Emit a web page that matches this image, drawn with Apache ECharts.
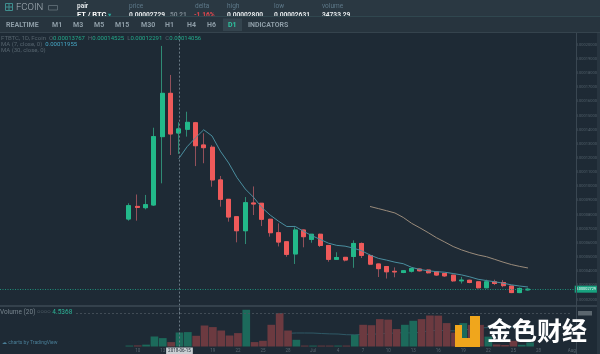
<!DOCTYPE html>
<html><head><meta charset="utf-8">
<script src="https://cdn.jsdelivr.net/npm/echarts@6/dist/echarts.min.js"></script>
<style>html,body{margin:0;padding:0;background:#1e2a35;}#c{width:600px;height:354px;}</style>
</head><body><div id="c"></div>
<script>
// ---- data (prices in satoshi = 1e-8 BTC, volumes in millions) ----
const categories = [
'2018-05-25','2018-05-26','2018-05-27','2018-05-28','2018-05-29','2018-05-30','2018-05-31',
'2018-06-01','2018-06-02','2018-06-03','2018-06-04','2018-06-05','2018-06-06','2018-06-07','2018-06-08','2018-06-09','2018-06-10',
'2018-06-11','2018-06-12','2018-06-13','2018-06-14','2018-06-15','2018-06-16','2018-06-17','2018-06-18','2018-06-19','2018-06-20',
'2018-06-21','2018-06-22','2018-06-23','2018-06-24','2018-06-25','2018-06-26','2018-06-27','2018-06-28','2018-06-29','2018-06-30',
'2018-07-01','2018-07-02','2018-07-03','2018-07-04','2018-07-05','2018-07-06','2018-07-07','2018-07-08','2018-07-09','2018-07-10',
'2018-07-11','2018-07-12','2018-07-13','2018-07-14','2018-07-15','2018-07-16','2018-07-17','2018-07-18','2018-07-19','2018-07-20',
'2018-07-21','2018-07-22','2018-07-23','2018-07-24','2018-07-25','2018-07-26','2018-07-27','2018-07-28','2018-07-29','2018-07-30',
'2018-07-31','2018-08-01'];
const candleStart = '2018-06-09';
const opens  = [7690,8580,8490,8680,13510,16570,13767,14030,14490,12920,12760,10450,9080,7850,6860,8820,8800,7670,6720,6080,5220,6910,6250,6610,5820,4840,4980,5040,5960,5110,4510,4330,3990,3910,4000,4150,4080,3960,3840,3720,3320,3360,3250,2830,3250,3200,2950,2490,2680];
const highs  = [8800,9420,9390,14140,19920,17870,14525,15270,14550,13750,12900,10730,9100,7870,9240,9990,8820,7700,7380,6100,7100,6950,6630,6650,5850,5340,5000,6180,6030,5210,4530,4360,4270,4080,4260,4180,4110,3980,3870,3740,3600,3400,3280,3400,3400,3370,2970,2850,2800];
const lows   = [7570,7570,8370,8610,10210,12210,12291,13510,11430,11630,9970,8560,7500,6040,5920,7970,7190,6440,5750,5020,4510,5690,6010,5710,4670,4820,4690,4240,4930,4430,3590,3480,3570,3860,3910,3980,3840,3660,3600,3250,3130,3150,2780,2800,3020,2870,2450,2450,2631];
const closes = [8630,8510,8700,13510,16570,13700,14056,14520,12870,12730,10450,9080,7830,6860,8840,8750,7670,6720,6060,5190,6910,6440,6610,5820,4840,4970,4790,5960,5120,4500,4180,3960,3950,4030,4180,4030,3890,3730,3670,3320,3370,3200,2830,3250,3130,2980,2490,2780,2729];
const volumes = [0.30,0.35,0.60,3.24,2.72,1.43,4.5368,4.67,3.47,6.80,6.29,5.18,3.56,4.34,11.90,1.43,1.85,7.03,10.80,5.18,2.17,0.30,0.30,0.30,0.30,0.30,0.30,3.79,7.03,6.90,8.88,8.70,5.64,7.03,8.33,8.88,10.04,10.00,7.58,4.50,7.58,7.00,7.00,3.20,0.65,0.50,1.85,0.55,1.30];
const ma7Start = '2018-06-15';
const ma7 = [11955,12795,13418,13994,13557,12487,11648,10620,9809,9220,8497,7964,7533,7156,7163,6820,6514,6250,5981,5826,5769,5633,5444,5143,4909,4783,4637,4529,4274,4119,4031,3967,3926,3836,3741,3601,3430,3339,3253,3154,3036,2951,2884];
const ma30Start = '2018-07-08';
const ma30 = [8574,8425,8274,8115,7799,7386,7064,6725,6365,6059,5745,5509,5313,5146,5026,4836,4643,4471,4339,4228];
const volMaStart = '2018-06-28';
const volMa20 = [4.28,4.38,4.37,4.36,4.21,4.09,4.04,3.82,3.78,3.96,3.96,4.09,4.27,4.37,4.51,4.33,4.70,5.11,5.26,5.10,5.06,5.33,5.67,6.00,6.15,6.17,6.18,6.25,6.09,5.81];
const tickDates  = ['2018-06-10','2018-06-13','2018-06-19','2018-06-22','2018-06-25','2018-06-28','2018-07-01','2018-07-04','2018-07-07','2018-07-10','2018-07-13','2018-07-16','2018-07-19','2018-07-22','2018-07-25','2018-07-28','2018-08-01'];
const tickLabels = ['10','13','19','22','25','28','Jul','4','7','10','13','16','19','22','25','28','Aug'];
const crosshairDate = '2018-06-15';
const lastPrice = 2729;
const priceMin = 1000, priceMax = 21000, priceStep = 1000;
const volMax = 13.12;

// ---- helpers ----
const fmt = v => (v / 1e8).toFixed(8);
function align(values, start) {
  const off = categories.indexOf(start);
  return categories.map((_, i) => (i >= off && i - off < values.length) ? values[i - off] : '-');
}
const cOff = categories.indexOf(candleStart);
const GREEN = '#22b98a', RED = '#ef5a5a';
const WICK_G = '#2f8a74', WICK_R = '#93505a';
const VOL_G = '#1c6a5b', VOL_R = '#6c3a40';
const wickData = categories.map((_, i) => {
  const k = i - cOff;
  if (k < 0 || k >= opens.length) return ['-','-','-','-'];
  return [opens[k], closes[k], lows[k], highs[k]];
});
const bodyData = categories.map((_, i) => {
  const k = i - cOff;
  if (k < 0 || k >= opens.length) return ['-','-','-','-'];
  return [opens[k], closes[k], Math.min(opens[k], closes[k]), Math.max(opens[k], closes[k])];
});
const volData = categories.map((_, i) => {
  const k = i - cOff;
  if (k < 0 || k >= volumes.length) return '-';
  return { value: volumes[k], itemStyle: { color: closes[k] >= opens[k] ? VOL_G : VOL_R } };
});
const hk = categories.indexOf(crosshairDate) - cOff;
const FONT = 'Roboto, "DejaVu Sans", sans-serif';

function txt(x, y, text, fill, size, weight, extra) {
  return Object.assign({ type: 'text', x: x, y: y, z: 110,
    style: Object.assign({ text: text, fill: fill, fontSize: size, fontFamily: FONT, fontWeight: weight || 'normal',
      verticalAlign: 'middle', textVerticalAlign: 'middle', align: 'left' }, {}) }, extra || {});
}

const graphics = [
  { type: 'rect', z: 100, shape: { x: 0, y: 0, width: 600, height: 17 }, style: { fill: '#2a3842' } },
  { type: 'rect', z: 100, shape: { x: 597, y: 17, width: 3, height: 337 }, style: { fill: '#283540' } },
  // logo
  { type: 'rect', z: 110, shape: { x: 5.5, y: 3.5, width: 7, height: 7 }, style: { fill: 'none', stroke: '#3f8f8f', lineWidth: 1 } },
  { type: 'line', z: 110, shape: { x1: 9, y1: 3.5, x2: 9, y2: 10.5 }, style: { stroke: '#3f8f8f', lineWidth: 1 } },
  { type: 'line', z: 110, shape: { x1: 5.5, y1: 7, x2: 12.5, y2: 7 }, style: { stroke: '#3f8f8f', lineWidth: 1 } },
  txt(16, 7.5, 'FCOIN', '#a9b4bb', 9.5, '300', {}),
  { type: 'rect', z: 110, shape: { x: 48.5, y: 5.5, width: 9, height: 4.5 }, style: { fill: 'none', stroke: '#66737c', lineWidth: 0.8 } },
  // header labels
  txt(77, 6, 'pair', '#dfe4e7', 6.5, 'bold'),
  txt(129, 6, 'price', '#5d7889', 6.5),
  txt(195, 6, 'delta', '#5d7889', 6.5),
  txt(227, 6, 'high', '#5d7889', 6.5),
  txt(274, 6, 'low', '#5d7889', 6.5),
  txt(322, 6, 'volume', '#5d7889', 6.5),
  txt(77, 15, 'FT / BTC', '#ffffff', 7.5, 'bold'),
  txt(108, 15, '▾', '#26a69a', 6.5),
  txt(129, 15, fmt(lastPrice), '#e6eaec', 6.6, 'bold'),
  txt(170, 15, '50.21', '#7d8a93', 6.5, 'bold'),
  txt(194, 15, '-1.16%', '#e2474e', 6.6, 'bold'),
  txt(227, 15, '0.00002800', '#e6eaec', 6.6, 'bold'),
  txt(274, 15, '0.00002631', '#e6eaec', 6.6, 'bold'),
  txt(322, 15, '34733.29', '#e6eaec', 6.6, 'bold'),
  // toolbar
  { type: 'rect', z: 120, shape: { x: 0, y: 17, width: 600, height: 15.5 }, style: { fill: '#27343e' } },
  { type: 'line', z: 121, shape: { x1: 0, y1: 16.5, x2: 600, y2: 16.5 }, style: { stroke: '#30474f', lineWidth: 1 } },
  { type: 'line', z: 121, shape: { x1: 0, y1: 32.5, x2: 600, y2: 32.5 }, style: { stroke: '#35434d', lineWidth: 1 } },
  { type: 'rect', z: 121, shape: { x: 223, y: 18.5, width: 19, height: 12.5 }, style: { fill: '#34444e' } },
];
const tools = [['REALTIME',6],['M1',52],['M3',73],['M5',94],['M15',115],['M30',141],['H1',165],['H4',187],['H6',207],['D1',228],['INDICATORS',248]];
tools.forEach(t => graphics.push(txt(t[1], 24.8, t[0], t[0] === 'D1' ? '#2ec4a0' : '#8e9da7', 7, 'bold', { z: 122 })));
graphics.push(
  // axis lines / separators
  { type: 'line', z: 50, shape: { x1: 576.5, y1: 33, x2: 576.5, y2: 354 }, style: { stroke: '#3a4752', lineWidth: 1 } },
  { type: 'line', z: 50, shape: { x1: 0, y1: 306, x2: 597, y2: 306 }, style: { stroke: '#3d4a55', lineWidth: 1.5 } },
  { type: 'line', z: 50, shape: { x1: 76, y1: 313.5, x2: 572, y2: 313.5 }, style: { stroke: '#4a565f', lineWidth: 0.8, lineDash: [2, 2] } },
  { type: 'rect', z: 60, shape: { x: 578, y: 311, width: 14, height: 4.5 }, style: { fill: '#5b666e' } },
  // legends
  { type: 'text', x: 1, y: 38.5, z: 60, style: { fontFamily: FONT, fontSize: 6, verticalAlign: 'middle', textVerticalAlign: 'middle',
      text: '{g|FTBTC, 1D, Fcoin}  {g|O}{v|' + fmt(opens[hk]) + '}  {g|H}{v|' + fmt(highs[hk]) + '}  {g|L}{v|' + fmt(lows[hk]) + '}  {g|C}{v|' + fmt(closes[hk]) + '}',
      rich: { g: { fill: '#56646e', fontSize: 6, fontFamily: FONT }, v: { fill: '#23a98a', fontSize: 6, fontFamily: FONT } } } },
  { type: 'text', x: 1, y: 44.5, z: 60, style: { fontFamily: FONT, fontSize: 6, verticalAlign: 'middle', textVerticalAlign: 'middle',
      text: '{g|MA (7, close, 0)}  {v|' + fmt(ma7[0]) + '}',
      rich: { g: { fill: '#56646e', fontSize: 6, fontFamily: FONT }, v: { fill: '#46a6c4', fontSize: 6, fontFamily: FONT } } } },
  { type: 'text', x: 1, y: 50.5, z: 60, style: { fontFamily: FONT, fontSize: 6, verticalAlign: 'middle', textVerticalAlign: 'middle',
      text: '{g|MA (30, close, 0)}', rich: { g: { fill: '#56646e', fontSize: 6, fontFamily: FONT } } } },
  { type: 'text', x: 0, y: 312, z: 60, style: { fontFamily: FONT, fontSize: 6.5, verticalAlign: 'middle', textVerticalAlign: 'middle',
      text: '{g|Volume (20)} {d|ᴑᴑᴑᴑ} {v|4.5368}',
      rich: { g: { fill: '#77848d', fontSize: 6.5, fontFamily: FONT }, d: { fill: '#55626c', fontSize: 5, fontFamily: FONT }, v: { fill: '#2db497', fontSize: 6.5, fontFamily: FONT } } } },
  txt(2, 343, '☁ charts by TradingView', '#4a7f98', 5, 'normal', { z: 60 }),
  // watermark
  { type: 'rect', z: 130, shape: { x: 470, y: 316, width: 10, height: 31 }, style: { fill: '#f0a61c' } },
  { type: 'rect', z: 130, shape: { x: 455, y: 338, width: 25, height: 9 }, style: { fill: '#f0a61c' } },
  { type: 'rect', z: 130, shape: { x: 455, y: 325, width: 7, height: 13 }, style: { fill: '#f0a61c' } },
  { type: 'text', x: 487, y: 330, z: 130, style: { text: '金色财经', fill: '#ffffff', fontSize: 25, fontWeight: 'bold',
      fontFamily: '"Noto Sans CJK SC", sans-serif', verticalAlign: 'middle', textVerticalAlign: 'middle' } }
);

const chart = echarts.init(document.getElementById('c'), null, { renderer: 'canvas' });
chart.setOption({
  backgroundColor: '#1e2a35',
  animation: false,
  grid: [
    { left: 0, right: 24, top: 30.65, height: 283 },
    { left: 0, right: 24, top: 306, height: 40.5 }
  ],
  xAxis: [
    { type: 'category', gridIndex: 0, data: categories, boundaryGap: true,
      axisLine: { show: false }, axisTick: { show: false }, axisLabel: { show: false }, splitLine: { show: false } },
    { type: 'category', gridIndex: 1, data: categories, boundaryGap: true,
      axisLine: { show: false }, axisTick: { show: false }, splitLine: { show: false },
      axisLabel: { show: true, margin: 2, fontSize: 4.5, color: '#59666f', fontFamily: FONT,
        interval: (i, v) => tickDates.indexOf(v) >= 0,
        formatter: v => { const k = tickDates.indexOf(v); return k >= 0 ? tickLabels[k] : ''; } } }
  ],
  yAxis: [
    { type: 'value', gridIndex: 0, position: 'right', min: priceMin, max: priceMax, interval: priceStep,
      axisLine: { show: false }, axisTick: { show: false }, splitLine: { show: false },
      axisLabel: { margin: 2, fontSize: 4, color: '#52606a', fontFamily: FONT,
        formatter: v => (v <= priceMin || v >= priceMax) ? '' : fmt(v) } },
    { type: 'value', gridIndex: 1, position: 'right', min: 0, max: volMax,
      axisLine: { show: false }, axisTick: { show: false }, splitLine: { show: false }, axisLabel: { show: false } }
  ],
  graphic: graphics,
  series: [
    { type: 'candlestick', name: 'wick', xAxisIndex: 0, yAxisIndex: 0, data: wickData, barWidth: 4.5, z: 2,
      itemStyle: { color: WICK_G, color0: WICK_R, borderColor: WICK_G, borderColor0: WICK_R, borderWidth: 1 },
      markLine: { silent: true, symbol: ['none', 'none'], animation: false,
        data: [
          { xAxis: crosshairDate, lineStyle: { color: '#6a7984', type: [2, 2], width: 1 }, label: { show: false } },
          { yAxis: lastPrice, lineStyle: { color: '#1f8d7a', type: [1, 1.5], width: 1 },
            label: { show: true, position: 'end', distance: 1, formatter: fmt(lastPrice), color: '#ffffff',
              backgroundColor: '#17a27f', fontSize: 3.8, padding: [1.5, 1], fontFamily: FONT } }
        ] } },
    { type: 'candlestick', name: 'body', xAxisIndex: 0, yAxisIndex: 0, data: bodyData, barWidth: 4.5, z: 3,
      itemStyle: { color: GREEN, color0: RED, borderColor: GREEN, borderColor0: RED, borderWidth: 1 } },
    { type: 'line', name: 'MA7', xAxisIndex: 0, yAxisIndex: 0, data: align(ma7, ma7Start), showSymbol: false, z: 4,
      lineStyle: { color: '#4a8e9f', width: 1 } },
    { type: 'line', name: 'MA30', xAxisIndex: 0, yAxisIndex: 0, data: align(ma30, ma30Start), showSymbol: false, z: 4,
      lineStyle: { color: '#9a8b7b', width: 1 } },
    { type: 'line', name: 'VolMA', xAxisIndex: 1, yAxisIndex: 1, data: align(volMa20, volMaStart), showSymbol: false, z: 1,
      lineStyle: { color: '#2f5966', width: 1 } },
    { type: 'bar', name: 'Volume', xAxisIndex: 1, yAxisIndex: 1, data: volData, barWidth: '92%', z: 2,
      markLine: { silent: true, symbol: ['none', 'none'], animation: false,
        data: [ { xAxis: crosshairDate, lineStyle: { color: '#6a7984', type: [2, 2], width: 1 },
          label: { show: true, position: 'start', distance: 1, formatter: crosshairDate, color: '#1e2a35',
            backgroundColor: '#c9ced2', fontSize: 4.5, padding: [1, 2], fontFamily: FONT } } ] } }
  ]
});
</script></body></html>
